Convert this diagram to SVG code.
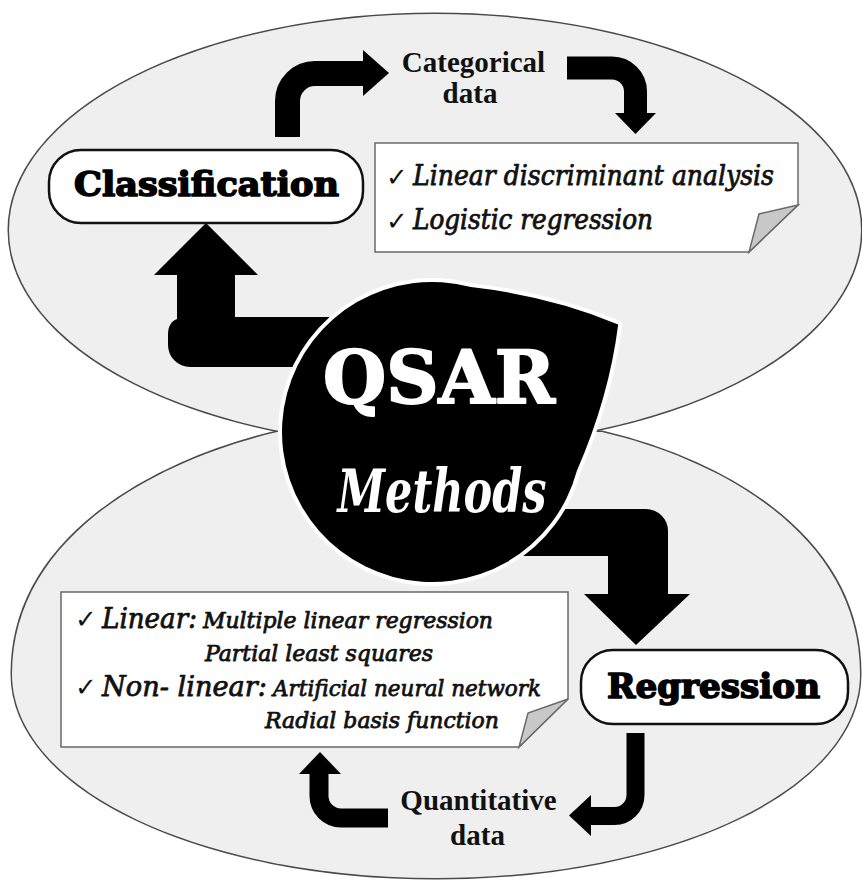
<svg xmlns="http://www.w3.org/2000/svg" width="862" height="882" viewBox="0 0 862 882">
  <style>
    .region-line { fill: none; stroke: #4a4a4a; stroke-width: 3; }
    .region-fill { fill: #efefef; stroke: none; }
    .shaft { fill: none; stroke: #000; stroke-linejoin: miter; stroke-linecap: butt; }
    .head { fill: #000; stroke: none; }
    .solid { fill: #000; stroke: none; }
    .pill { fill: #fff; stroke: #111; stroke-width: 2.5; }
    .pill-text { font-family: "DejaVu Serif", "Liberation Serif", serif; font-weight: bold; font-size: 33px; fill: #000; stroke: #000; stroke-width: 1.6; stroke-linejoin: round; text-anchor: middle; }
    .note { fill: #fff; stroke: #6a6a6a; stroke-width: 1.5; stroke-linejoin: miter; }
    .fold { fill: #c8c8c8; stroke: #6a6a6a; stroke-width: 1.5; stroke-linejoin: miter; }
    .label { font-family: "Liberation Serif", "Times New Roman", serif; font-weight: bold; font-size: 29px; fill: #111; text-anchor: middle; }
    .item { font-family: "DejaVu Serif Condensed", "DejaVu Serif", serif; font-style: italic; font-weight: normal; fill: #111; stroke: #111; stroke-width: 0.75; stroke-linejoin: round; }
    .tick { font-family: "DejaVu Sans", sans-serif; font-style: normal; font-weight: normal; font-size: 26px; fill: #111; }
  </style>

  <!-- two overlapping rounded regions: outlines first, fills on top so only the outer outline stays -->
  <g id="regions">
    <ellipse class="region-line" cx="435" cy="230" rx="426" ry="216"/>
    <path class="region-line" d="M 277,432 C 150,462 12,540 12,674 C 12,790 203,878 436,878 C 670,878 860,790 860,674 C 860,540 730,462 602,432 Z"/>
    <ellipse class="region-fill" cx="435" cy="230" rx="426" ry="216"/>
    <path class="region-fill" d="M 277,432 C 150,462 12,540 12,674 C 12,790 203,878 436,878 C 670,878 860,790 860,674 C 860,540 730,462 602,432 Z"/>
  </g>

  <g id="connectors">
    <!-- Classification -> Categorical data -->
    <path class="shaft" stroke-width="25" d="M 287.5,137 L 287.5,101 A 27.5 27.5 0 0 1 315,73.5 L 364,73.5"/>
    <polygon class="head" points="363,50 389,73 363,96"/>
    <!-- Categorical data -> classification methods -->
    <path class="shaft" stroke-width="23" d="M 567,68 L 612,68 A 23.5 23.5 0 0 1 635.5,91.5 L 635.5,114"/>
    <polygon class="head" points="615,113 656,113 635.5,134"/>
    <!-- QSAR -> Classification -->
    <path class="solid" d="M 360,317 L 235,317 L 235,275 L 258,275 L 206,223 L 154,275 L 177,275 L 177,319 C 171,321 168,327 168,334 L 168,345 A 22 22 0 0 0 190,367 L 360,367 Z"/>
    <!-- QSAR -> Regression -->
    <path class="solid" d="M 500,509 L 646,509 A 22 22 0 0 1 668,531 L 668,594 L 690,594 L 636,645 L 584,594 L 608,594 L 608,556 L 500,556 Z"/>
    <!-- Regression -> Quantitative data -->
    <path class="shaft" stroke-width="18" d="M 635.5,733 L 635.5,795 A 21 21 0 0 1 614.5,816 L 590,816"/>
    <polygon class="head" points="591,795 591,836 569,815.5"/>
    <!-- Quantitative data -> regression methods -->
    <path class="shaft" stroke-width="19" d="M 388,818 L 341,818 A 22 22 0 0 1 319,796 L 319,773"/>
    <polygon class="head" points="299,774 341,774 320,752"/>
  </g>

  <g id="qsar-methods">
    <path d="M 0,-150 Q 80,-162 152,-152 Q 162,-80 150,0 A 150 150 0 1 1 0,-150 Z" transform="translate(432,432) rotate(15)" fill="#000" stroke="#fff" stroke-width="8" paint-order="stroke" stroke-linejoin="round"/>
    <text x="439" y="403" font-family="'DejaVu Serif', 'Liberation Serif', serif" font-weight="bold" font-size="72" fill="#fff" stroke="#fff" stroke-width="2" stroke-linejoin="round" text-anchor="middle" textLength="232" lengthAdjust="spacingAndGlyphs">QSAR</text>
    <text x="442" y="512" font-family="'DejaVu Serif', serif" font-style="italic" font-weight="bold" font-size="60" fill="#fff" text-anchor="middle" textLength="209" lengthAdjust="spacingAndGlyphs">Methods</text>
  </g>

  <g id="classification">
    <rect class="pill" x="49" y="150" width="314" height="73" rx="32"/>
    <text class="pill-text" x="206.5" y="196" textLength="265" lengthAdjust="spacingAndGlyphs">Classification</text>
  </g>

  <g id="regression">
    <rect class="pill" x="581" y="650" width="267" height="74" rx="32"/>
    <text class="pill-text" x="713.5" y="698" textLength="213" lengthAdjust="spacingAndGlyphs">Regression</text>
  </g>

  <g id="categorical-data">
    <text class="label" x="473.5" y="72">Categorical</text>
    <text class="label" x="470" y="103">data</text>
  </g>

  <g id="quantitative-data">
    <text class="label" x="478.5" y="810">Quantitative</text>
    <text class="label" x="477.5" y="845">data</text>
  </g>

  <g id="classification-methods">
    <path class="note" d="M 375,143 L 798,143 L 798,205 L 749,252 L 375,252 Z"/>
    <path class="fold" d="M 798,205 L 759,214 L 749,252 Z"/>
    <text class="tick" x="386" y="186">✓</text>
    <text class="item" x="413" y="185" font-size="27" textLength="361" lengthAdjust="spacingAndGlyphs">Linear discriminant analysis</text>
    <text class="tick" x="386" y="230">✓</text>
    <text class="item" x="413" y="229" font-size="27" textLength="240" lengthAdjust="spacingAndGlyphs">Logistic regression</text>
  </g>

  <g id="regression-methods">
    <path class="note" d="M 61,592 L 568,592 L 568,699 L 519,747 L 61,747 Z"/>
    <path class="fold" d="M 568,699 L 528,713 L 519,747 Z"/>
    <text class="tick" x="75" y="628">✓</text>
    <text class="item" x="102" y="628" font-size="28" textLength="95" lengthAdjust="spacingAndGlyphs">Linear:</text>
    <text class="item" x="203" y="628" font-size="22" textLength="290" lengthAdjust="spacingAndGlyphs">Multiple linear regression</text>
    <text class="item" x="205" y="661" font-size="22" textLength="228" lengthAdjust="spacingAndGlyphs">Partial least squares</text>
    <text class="tick" x="75" y="696">✓</text>
    <text class="item" x="102" y="696" font-size="28" textLength="165" lengthAdjust="spacingAndGlyphs">Non- linear:</text>
    <text class="item" x="273" y="696" font-size="22" textLength="268" lengthAdjust="spacingAndGlyphs">Artificial neural network</text>
    <text class="item" x="265" y="728" font-size="22" textLength="234" lengthAdjust="spacingAndGlyphs">Radial basis function</text>
  </g>
</svg>
